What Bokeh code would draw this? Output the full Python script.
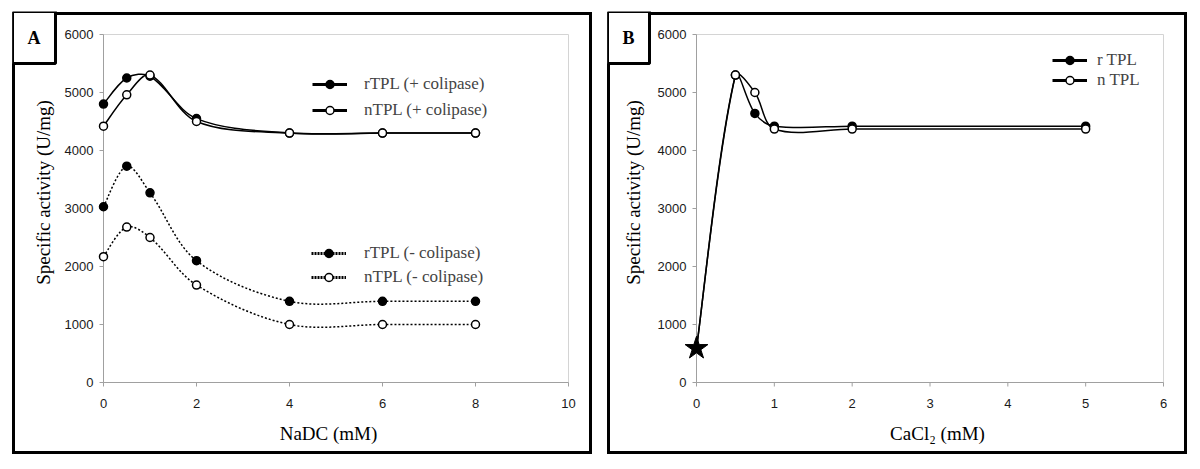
import numpy as np
from bokeh.plotting import figure
from bokeh.layouts import row
from bokeh.models import (Range1d, LinearAxis, Legend, LegendItem, Label,
                          ColumnDataSource, FixedTicker)
from bokeh.embed import file_html
from bokeh.resources import INLINE

# ---------------- data ----------------
# Panel A : NaDC
nadc_mM = [0, 0.5, 1, 2, 4, 6, 8]
rtpl_plus_colipase = [4800, 5250, 5280, 4550, 4300, 4300, 4300]
ntpl_plus_colipase = [4420, 4960, 5300, 4500, 4300, 4300, 4300]
rtpl_minus_colipase = [3030, 3730, 3270, 2100, 1400, 1400, 1400]
ntpl_minus_colipase = [2170, 2680, 2500, 1680, 1000, 1000, 1000]

# Panel B : CaCl2 (first point = no calcium, shown as a star)
cacl2_mM = [0, 0.5, 0.75, 1, 2, 5]
rtpl_cacl2 = [590, 5300, 4640, 4420, 4420, 4420]
ntpl_cacl2 = [590, 5300, 5000, 4370, 4370, 4370]

x_ticks_a = [0, 2, 4, 6, 8, 10]
x_ticks_b = [0, 1, 2, 3, 4, 5, 6]
y_ticks = [0, 1000, 2000, 3000, 4000, 5000, 6000]

XMAX_A, XMAX_B, YMAX = 10, 6, 6000
Y_TITLE = "Specific activity (U/mg)"
X_TITLE_A = "NaDC (mM)"
X_TITLE_B = "CaCl\u2082 (mM)"

# ---------------- layout constants (canvas px) ----------------
FIG_W, FIG_H = 588, 450
EDGE = 4                       # frame fills the panel up to its border
EDGE_T = 3
AREA_H = 348                   # plot-area height
AREA_W_A, AREA_W_B = 465, 467  # plot-area widths
AREA_L_A, AREA_L_B = 95, 93    # plot-area left inside each figure
AREA_T = 26                    # plot-area top inside figure
TICK = 4
AXIS_GRAY = "#a0a0a0"
BORDER_GRAY = "#d4d4d4"

SERIF = "Liberation Serif"
SANS = "Liberation Sans"


def bezier_segments(xs, ys, ppx, ppy):
    """Excel-like smoothed line: cubic Bezier pieces through the data points."""
    P = np.column_stack([np.asarray(xs, float) * ppx, np.asarray(ys, float) * ppy])
    n = len(P)
    out = {k: [] for k in ("x0", "y0", "x1", "y1", "cx0", "cy0", "cx1", "cy1")}

    def d(a, b):
        return float(np.hypot(*(P[a] - P[b])))

    for i in range(n - 1):
        a, b = i, i + 1
        prev = i - 1 if i > 0 else i
        nxt = i + 2 if i + 2 < n else i + 1
        if prev == a:
            c0 = P[a] + (P[b] - P[a]) / 6
        else:
            c0 = P[a] + (P[b] - P[prev]) * d(a, b) / (3 * (d(prev, a) + d(a, b)))
        if nxt == b:
            c1 = P[b] - (P[b] - P[a]) / 6
        else:
            c1 = P[b] - (P[nxt] - P[a]) * d(a, b) / (3 * (d(a, b) + d(b, nxt)))
        out["x0"].append(P[a][0] / ppx); out["y0"].append(P[a][1] / ppy)
        out["x1"].append(P[b][0] / ppx); out["y1"].append(P[b][1] / ppy)
        out["cx0"].append(c0[0] / ppx); out["cy0"].append(c0[1] / ppy)
        out["cx1"].append(c1[0] / ppx); out["cy1"].append(c1[1] / ppy)
    return out


def make_fig(xmax, xticks, area_w, area_l, letter, xtitle, xtitle_pos, ytitle_pos):
    ppx = area_w / xmax
    ppy = AREA_H / YMAX
    left_px = area_l - EDGE
    right_px = FIG_W - EDGE - (area_l + area_w)
    top_px = AREA_T - EDGE_T
    bottom_px = FIG_H - EDGE - (AREA_T + AREA_H)
    p = figure(width=FIG_W, height=FIG_H, output_backend="svg", toolbar_location=None,
               x_axis_location=None, y_axis_location=None,
               x_range=Range1d(-left_px / ppx, xmax + right_px / ppx),
               y_range=Range1d(-bottom_px / ppy, YMAX + top_px / ppy),
               min_border_left=EDGE, min_border_right=EDGE,
               min_border_top=EDGE_T, min_border_bottom=EDGE)
    p.grid.grid_line_color = None
    p.outline_line_color = None
    p.background_fill_color = None
    p.border_fill_color = None
    p.styles = {"box-shadow": "inset 0 0 0 4px white, inset 0 0 0 7px black",
                "background-color": "white"}

    # plot-area border, axis lines and outward tick marks
    p.quad(left=[0], right=[xmax], bottom=[0], top=[YMAX], fill_color=None,
           line_color=BORDER_GRAY, line_width=1)
    p.segment(x0=[0, 0], y0=[0, 0], x1=[0, xmax], y1=[YMAX, 0],
              line_color=AXIS_GRAY, line_width=1)
    p.segment(x0=[-TICK / ppx] * len(y_ticks), x1=[0] * len(y_ticks), y0=y_ticks, y1=y_ticks,
              line_color=AXIS_GRAY, line_width=1)
    p.segment(x0=xticks, x1=xticks, y0=[0] * len(xticks), y1=[-TICK / ppy] * len(xticks),
              line_color=AXIS_GRAY, line_width=1)

    # axes (tick labels only; lines are drawn above)
    yax = LinearAxis(bounds=(0, YMAX), ticker=FixedTicker(ticks=y_ticks))
    xax = LinearAxis(bounds=(0, xmax), ticker=FixedTicker(ticks=xticks))
    for ax in (yax, xax):
        ax.axis_line_color = None
        ax.major_tick_line_color = None
        ax.minor_tick_line_color = None
        ax.major_tick_out = 0
        ax.major_tick_in = 0
        ax.major_label_text_font = SANS
        ax.major_label_text_font_size = "13px"
        ax.major_label_text_color = "#1a1a1a"
    yax.major_label_standoff = -(left_px - 10)     # labels end 10 px left of x = 0
    xax.major_label_standoff = -(bottom_px - 16)   # labels start 16 px below y = 0
    p.add_layout(yax, "left")
    p.add_layout(xax, "below")

    # axis titles
    p.add_layout(Label(x=ytitle_pos[0], y=ytitle_pos[1], x_units="canvas", y_units="canvas",
                       text=Y_TITLE, angle=np.pi / 2, text_align="center",
                       text_baseline="middle", text_font=SERIF, text_font_size="19px",
                       text_color="black"))
    p.add_layout(Label(x=xtitle_pos[0], y=xtitle_pos[1], x_units="canvas", y_units="canvas",
                       text=xtitle, text_align="center", text_baseline="middle",
                       text_font=SERIF, text_font_size="19px", text_color="black"))

    # boxed panel letter
    p.add_layout(Label(x=EDGE, y=EDGE_T, x_units="canvas", y_units="canvas", text=letter,
                       text_font=SERIF, text_font_style="bold", text_font_size="18px",
                       text_color="black", text_align="left", text_baseline="top",
                       background_fill_color="white", border_line_color="black",
                       border_line_width=3, padding=(15, 16)))
    return p, ppx, ppy, bottom_px


def series(p, xs, ys, ppx, ppy, dash, fill, mx=None, my=None):
    seg = bezier_segments(xs, ys, ppx, ppy)
    p.bezier(source=ColumnDataSource(seg), x0="x0", y0="y0", x1="x1", y1="y1",
             cx0="cx0", cy0="cy0", cx1="cx1", cy1="cy1",
             line_color="black", line_width=1.5, line_dash=dash)
    p.scatter(mx if mx is not None else xs, my if my is not None else ys,
              marker="circle", size=8, fill_color=fill, line_color="black", line_width=1.5)


def legend_proxy(p, dash, fill):
    src = ColumnDataSource(dict(x=[np.nan], y=[np.nan]))
    ln = p.line("x", "y", source=src, line_color="black", line_width=3, line_dash=dash)
    sc = p.scatter("x", "y", source=src, marker="circle", size=8, fill_color=fill,
                   line_color="black", line_width=1.5)
    return [ln, sc]


def add_legend(p, items, loc, spacing, standoff):
    leg = Legend(items=items, location=loc, orientation="vertical",
                 glyph_width=35, glyph_height=20, label_height=20, spacing=spacing,
                 padding=0, margin=0, label_standoff=standoff,
                 border_line_color=None, background_fill_alpha=0,
                 label_text_font=SERIF, label_text_font_size="17px")
    p.add_layout(leg)


# legend positions are measured from the frame's bottom-left corner (canvas px)
FRAME_BOTTOM = FIG_H - EDGE

# ---------------- Panel A ----------------
pa, ppx_a, ppy_a, bpx_a = make_fig(XMAX_A, x_ticks_a, AREA_W_A, AREA_L_A, "A",
                                   X_TITLE_A, (320, 425), (35, 184))
series(pa, nadc_mM, rtpl_minus_colipase, ppx_a, ppy_a, "2 2", "black")
series(pa, nadc_mM, ntpl_minus_colipase, ppx_a, ppy_a, "2 2", "white")
series(pa, nadc_mM, rtpl_plus_colipase, ppx_a, ppy_a, "solid", "black")
series(pa, nadc_mM, ntpl_plus_colipase, ppx_a, ppy_a, "solid", "white")

add_legend(pa, [LegendItem(label="rTPL (+ colipase)", renderers=legend_proxy(pa, "solid", "black")),
                LegendItem(label="nTPL (+ colipase)", renderers=legend_proxy(pa, "solid", "white"))],
           (300, FRAME_BOTTOM - 112), 6, 17)
add_legend(pa, [LegendItem(label="rTPL (- colipase)", renderers=legend_proxy(pa, "2 1", "black")),
                LegendItem(label="nTPL (- colipase)", renderers=legend_proxy(pa, "2 1", "white"))],
           (299, FRAME_BOTTOM - 279), 4, 18)

# ---------------- Panel B ----------------
pb, ppx_b, ppy_b, bpx_b = make_fig(XMAX_B, x_ticks_b, AREA_W_B, AREA_L_B, "B",
                                   X_TITLE_B, (334, 425), (30, 184))
series(pb, cacl2_mM, rtpl_cacl2, ppx_b, ppy_b, "solid", "black", cacl2_mM[1:], rtpl_cacl2[1:])
series(pb, cacl2_mM, ntpl_cacl2, ppx_b, ppy_b, "solid", "white", cacl2_mM[1:], ntpl_cacl2[1:])
pb.scatter(cacl2_mM[:1], rtpl_cacl2[:1], marker="star", size=24, fill_color="black",
           line_color="black")
add_legend(pb, [LegendItem(label="r TPL", renderers=legend_proxy(pb, "solid", "black")),
                LegendItem(label="n TPL", renderers=legend_proxy(pb, "solid", "white"))],
           (445, FRAME_BOTTOM - 82), 0, 10)

layout = row(pa, pb, spacing=7, margin=(8, 0, 0, 8))
open("out.html", "w").write(file_html(layout, INLINE))
